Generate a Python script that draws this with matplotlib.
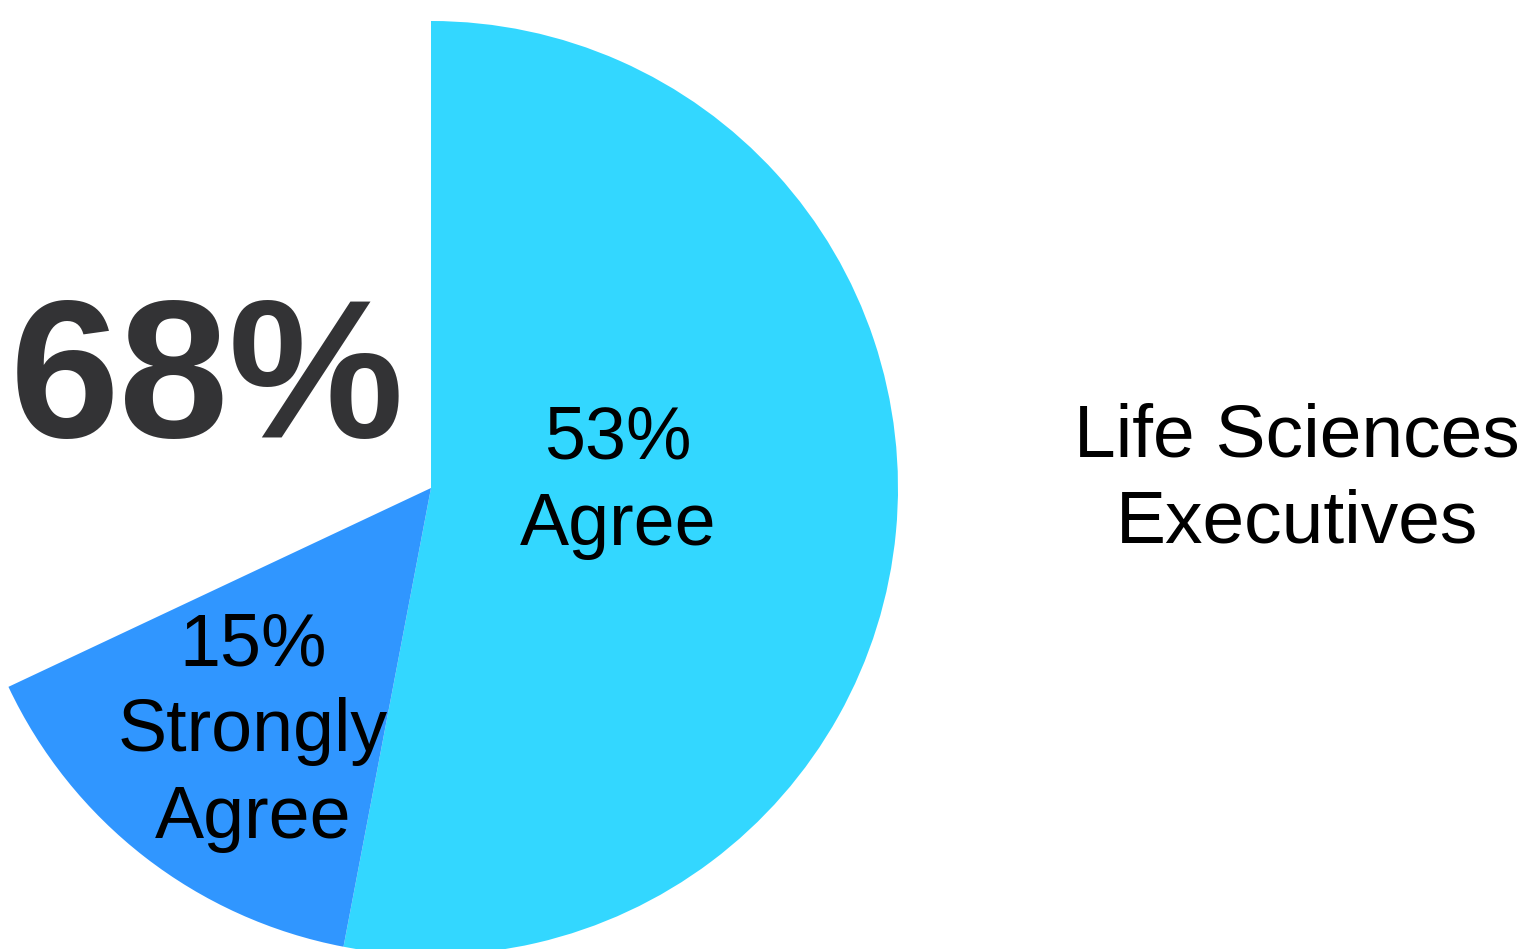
import matplotlib
matplotlib.use("Agg")
import matplotlib.pyplot as plt

# Survey shares (the remaining part of the circle is left blank)
labels = ["53%\nAgree", "15%\nStrongly\nAgree", ""]
shares = [53, 15, 32]
colors = ["#33D7FF", "#3096FF", "none"]
headline = "68%"
group = "Life Sciences\nExecutives"

W, H = 1525, 949
fig = plt.figure(figsize=(W / 100, H / 100), dpi=100)
ax = fig.add_axes([0, 0, 1, 1])

ax.pie(shares, colors=colors, startangle=90, counterclock=False,
       center=(431, H - 488), radius=467,
       wedgeprops=dict(linewidth=0))

ax.set_xlim(0, W)
ax.set_ylim(0, H)
ax.set_aspect("auto")
ax.axis("off")

font = "Liberation Sans"

# labels inside the slices
ax.text(618, H - 482, labels[0], ha="center", va="center",
        fontsize=53, family=font, linespacing=1.32)
ax.text(253, H - 732, labels[1], ha="center", va="center",
        fontsize=53, family=font, linespacing=1.32)

# big total on the left
ax.text(10, H - 437, headline, ha="left", va="baseline",
        fontsize=142, family=font, fontweight="bold",
        color="#333335")

# group name on the right
ax.text(1297, H - 480, group, ha="center", va="center",
        fontsize=54, family=font, linespacing=1.32)

fig.savefig("out.png", dpi=100)
